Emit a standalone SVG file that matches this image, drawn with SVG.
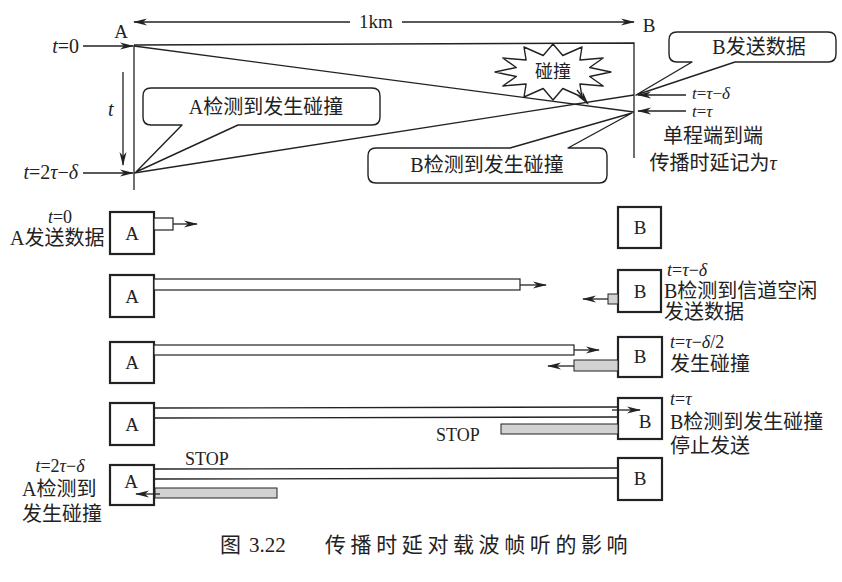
<svg xmlns="http://www.w3.org/2000/svg" width="842" height="582" viewBox="0 0 842 582">
<style>
.ln{fill:none;stroke:#222;stroke-width:1.3}
.ar{fill:none;stroke:#222;stroke-width:1.3;marker-end:url(#ah)}
.box{fill:#fff;stroke:#222;stroke-width:2.2}
.sig{fill:#fff;stroke:#222;stroke-width:1.2}
.grey{fill:#d2d2d2;stroke:#222;stroke-width:1}
.bub{fill:#fff;stroke:#222;stroke-width:1.4;stroke-linejoin:round}
.t{font-family:"Liberation Serif","Noto Sans CJK SC",serif;fill:#222}
.cn{font-size:20px}
.m{font-size:20px}
.s{font-size:18px}
.i{font-style:italic}
.c{text-anchor:middle}
</style>
<defs>
<marker id="ah" markerUnits="userSpaceOnUse" viewBox="0 0 14 8" refX="13" refY="4" markerWidth="14" markerHeight="8" orient="auto-start-reverse">
<path d="M0,0.5 L14,4 L0,7.5 L4,4 Z" fill="#222"/>
</marker>
</defs>

<g id="timeline">
<text class="t c" x="121" y="38" font-size="19">A</text>
<text class="t c" x="649" y="32" font-size="19">B</text>
<text class="t c" x="376" y="28" font-size="19">1km</text>
<line class="ar" x1="350" y1="22" x2="134" y2="22"/>
<line class="ar" x1="402" y1="22" x2="634" y2="22"/>
<path class="ln" d="M134,45 L634,43 L634,158"/>
<line class="ln" x1="134" y1="45" x2="134" y2="190"/>
<text class="t m" x="79" y="53" text-anchor="end"><tspan class="i">t</tspan>=0</text>
<line class="ar" x1="83" y1="46" x2="133" y2="46"/>
<text class="t m" x="78" y="179" text-anchor="end"><tspan class="i">t</tspan>=2<tspan class="i">τ</tspan>−<tspan class="i">δ</tspan></text>
<line class="ar" x1="83" y1="173" x2="133" y2="173"/>
<text class="t m i" x="108" y="116">t</text>
<line class="ar" x1="123" y1="72" x2="123" y2="165"/>
<text class="t" x="692" y="99" font-size="17"><tspan class="i">t</tspan>=<tspan class="i">τ</tspan>−<tspan class="i">δ</tspan></text>
<line class="ar" x1="686" y1="95" x2="638" y2="95"/>
<text class="t" x="692" y="117" font-size="17"><tspan class="i">t</tspan>=<tspan class="i">τ</tspan></text>
<line class="ar" x1="686" y1="111" x2="638" y2="111"/>
<text class="t cn c" x="713" y="143">单程端到端</text>
<text class="t cn c" x="713" y="170">传播时延记为<tspan class="i">τ</tspan></text>
</g>

<g id="connectors">
<line class="ln" x1="134" y1="46" x2="634" y2="112"/>
<line class="ln" x1="634" y1="95" x2="134" y2="173"/>
</g>

<g id="collision">
<polygon class="bub" points="611,72 589.7,76.5 603.2,86 579.9,84 582,97 562.8,88.5 553,100 543.2,88.5 524,97 526.1,84 502.8,86 516.3,76.5 495,72 516.3,67.5 502.8,58 526.1,60 524,47 543.2,55.5 553,44 562.8,55.5 582,47 579.9,60 603.2,58 589.7,67.5"/>
<text class="t c" x="553" y="78" font-size="18">碰撞</text>
<line class="ar" x1="577" y1="90" x2="588" y2="104"/>
</g>

<g id="callout-a">
<path class="bub" d="M182,125 L151,125 Q143,125 143,117 L143,96 Q143,88 151,88 L372,88 Q380,88 380,96 L380,117 Q380,125 372,125 L238,125 L136,172 Z"/>
<text class="t cn c" x="266" y="114">A检测到发生碰撞</text>
</g>

<g id="callout-b">
<path class="bub" d="M568,148 L599,148 Q607,148 607,156 L607,175 Q607,183 599,183 L376,183 Q368,183 368,175 L368,156 Q368,148 376,148 L510,148 L632,113 Z"/>
<text class="t cn c" x="487" y="172">B检测到发生碰撞</text>
</g>

<g id="callout-b-send">
<path class="bub" d="M692,62 L677,62 Q669,62 669,54 L669,40 Q669,32 677,32 L828,32 Q836,32 836,40 L836,54 Q836,62 828,62 L735,62 L636,95 Z"/>
<text class="t cn c" x="759" y="54">B发送数据</text>
</g>

<g id="row1">
<text class="t s c" x="60" y="223"><tspan class="i">t</tspan>=0</text>
<text class="t cn" x="10" y="245">A发送数据</text>
<rect class="box" x="110" y="212" width="44" height="42"/>
<text class="t c" x="132" y="240" font-size="19">A</text>
<rect class="sig" x="154" y="218" width="19" height="12"/>
<line class="ar" x1="173" y1="224" x2="197" y2="224"/>
<rect class="box" x="618" y="207" width="43" height="41"/>
<text class="t c" x="640" y="234" font-size="19">B</text>
</g>

<g id="row2">
<rect class="box" x="110" y="275" width="44" height="42"/>
<text class="t c" x="132" y="303" font-size="19">A</text>
<rect class="sig" x="154" y="279" width="366" height="11"/>
<line class="ar" x1="520" y1="285" x2="546" y2="285"/>
<rect class="box" x="618" y="270" width="43" height="42"/>
<text class="t c" x="640" y="298" font-size="19">B</text>
<rect class="grey" x="608" y="294" width="10" height="10"/>
<line class="ar" x1="608" y1="299" x2="583" y2="299"/>
<text class="t s" x="667" y="276"><tspan class="i">t</tspan>=<tspan class="i">τ</tspan>−<tspan class="i">δ</tspan></text>
<text class="t cn" x="664" y="298">B检测到信道空闲</text>
<text class="t cn" x="664" y="319">发送数据</text>
</g>

<g id="row3">
<rect class="box" x="110" y="342" width="44" height="41"/>
<text class="t c" x="132" y="369" font-size="19">A</text>
<rect class="sig" x="154" y="345" width="420" height="10"/>
<line class="ar" x1="574" y1="350" x2="599" y2="350"/>
<rect class="box" x="618" y="337" width="44" height="40"/>
<text class="t c" x="640" y="363" font-size="19">B</text>
<rect class="grey" x="574" y="360" width="44" height="11"/>
<line class="ar" x1="574" y1="366" x2="548" y2="366"/>
<text class="t s" x="670" y="348"><tspan class="i">t</tspan>=<tspan class="i">τ</tspan>−<tspan class="i">δ</tspan>/2</text>
<text class="t cn" x="670" y="371">发生碰撞</text>
</g>

<g id="row4">
<rect class="box" x="110" y="403" width="44" height="42"/>
<text class="t c" x="132" y="431" font-size="19">A</text>
<line class="ln" x1="154" y1="408" x2="618" y2="407"/>
<line class="ln" x1="154" y1="418" x2="618" y2="417"/>
<rect class="box" x="618" y="398" width="44" height="41"/>
<text class="t c" x="645" y="428" font-size="19">B</text>
<line class="ar" x1="612" y1="410" x2="640" y2="410"/>
<rect class="grey" x="501" y="424" width="117" height="10"/>
<text class="t" x="436" y="441" font-size="18">STOP</text>
<text class="t s" x="670" y="405"><tspan class="i">t</tspan>=<tspan class="i">τ</tspan></text>
<text class="t cn" x="670" y="429">B检测到发生碰撞</text>
<text class="t cn" x="670" y="453">停止发送</text>
</g>

<g id="row5">
<text class="t s c" x="60" y="472"><tspan class="i">t</tspan>=2<tspan class="i">τ</tspan>−<tspan class="i">δ</tspan></text>
<text class="t cn" x="22" y="496">A检测到</text>
<text class="t cn" x="22" y="521">发生碰撞</text>
<rect class="box" x="110" y="465" width="44" height="40"/>
<text class="t c" x="131" y="488" font-size="19">A</text>
<line class="ln" x1="154" y1="469" x2="618" y2="468"/>
<line class="ln" x1="154" y1="479" x2="618" y2="478"/>
<rect class="grey" x="155" y="488" width="122" height="10"/>
<line class="ar" x1="160" y1="494" x2="136" y2="494"/>
<text class="t" x="185" y="465" font-size="18">STOP</text>
<rect class="box" x="618" y="458" width="44" height="42"/>
<text class="t c" x="640" y="485" font-size="19">B</text>
</g>

<g id="caption">
<text class="t" x="220" y="552" font-size="21">图</text>
<text class="t" x="249" y="552" font-size="21">3.22</text>
<text class="t" x="325" y="552" font-size="21" letter-spacing="4.6">传播时延对载波帧听的影响</text>
</g>
</svg>
